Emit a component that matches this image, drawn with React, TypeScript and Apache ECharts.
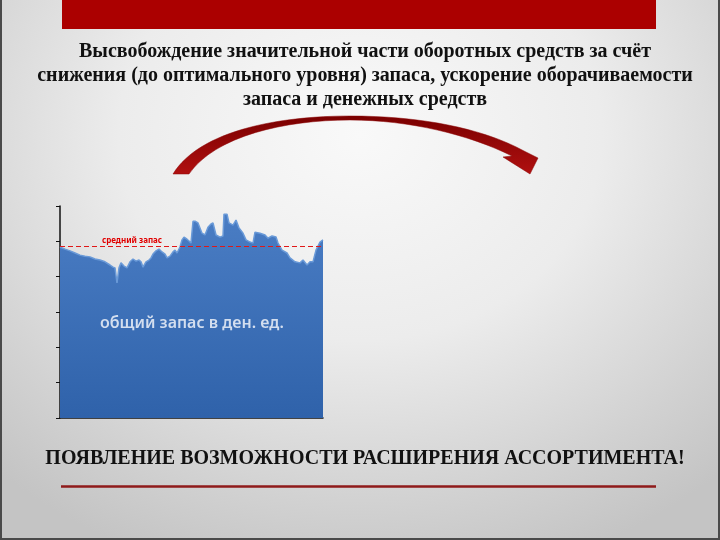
import React, { useEffect, useRef } from "react";
import * as echarts from "echarts";

// Days since start of observation (x), and total stock value in money units (y)
const days: number[] = [
  0, 5, 10, 15, 20, 25, 30, 35, 40, 45, 50, 53, 55, 57, 59, 61, 64, 67, 70, 73,
  76, 79, 81, 83, 86, 89, 91, 93, 96, 99, 102, 105, 107, 110, 113, 115, 117, 120, 122, 124,
  127, 129, 131, 133, 135, 138, 142, 145, 148, 151, 153, 156, 160, 163, 164, 167, 169, 173, 176, 179,
  183, 186, 190, 193, 195, 200, 205, 208, 212, 216, 218, 222, 227, 230, 235, 240, 243, 247, 250, 253,
  256, 260, 263,
];
const stock: number[] = [
  4.84, 4.78, 4.73, 4.67, 4.61, 4.58, 4.56, 4.5, 4.47, 4.42, 4.33, 4.27, 4.25, 3.82, 4.25, 4.39, 4.3, 4.25, 4.42, 4.5,
  4.44, 4.47, 4.42, 4.27, 4.42, 4.47, 4.53, 4.64, 4.73, 4.78, 4.7, 4.64, 4.53, 4.58, 4.7, 4.75, 4.67, 4.84, 5.04, 5.12,
  5.06, 5.01, 4.95, 5.57, 5.57, 5.52, 5.23, 5.18, 5.4, 5.49, 5.52, 5.18, 5.12, 5.15, 5.77, 5.77, 5.52, 5.46, 5.6, 5.38,
  5.23, 5.04, 4.98, 4.95, 5.26, 5.23, 5.18, 5.09, 5.15, 5.12, 4.95, 4.75, 4.67, 4.53, 4.42, 4.39, 4.47, 4.33, 4.42, 4.42,
  4.75, 4.98, 5.04,
];
const averageStock = 4.85;
const averageLabel = "средний запас";
const areaLabel = "общий запас в ден. ед.";
const titleLines: string[] = [
  "Высвобождение значительной части оборотных средств за счёт",
  "снижения (до оптимального уровня) запаса, ускорение оборачиваемости",
  "запаса и денежных средств",
];
const conclusion = "ПОЯВЛЕНИЕ ВОЗМОЖНОСТИ РАСШИРЕНИЯ АССОРТИМЕНТА!";

const ARROW_D =
  "M 173 174 C 200 130 280 116 350 116 C 420 116 482 128 524 151 L 538 158 L 530 174 L 503 157 L 512 156 C 470 135 410 120 350 120 C 285 120 215 136 189 174 Z";

let registered = false;

export default function App() {
  const ref = useRef<HTMLDivElement>(null);
  useEffect(() => {
    if (!ref.current) return;
    if (!registered) {
      echarts.graphic.registerShape("bigArrow", echarts.graphic.extendPath(ARROW_D, {}) as any);
      registered = true;
    }
    const chart = echarts.init(ref.current, undefined, { renderer: "svg" });
    const series = days.map((d, i) => [d, stock[i]]);
    const serif = "'Liberation Serif', 'Times New Roman', serif";
    chart.setOption({
      animation: false,
      backgroundColor: "transparent",
      grid: { left: 60, top: 206, right: 397, bottom: 122, containLabel: false },
      xAxis: {
        type: "value",
        min: 0,
        max: 263,
        axisLine: { show: true, lineStyle: { color: "#111", width: 1.5 } },
        axisTick: { show: false },
        axisLabel: { show: false },
        splitLine: { show: false },
      },
      yAxis: {
        type: "value",
        min: 0,
        max: 6,
        interval: 1,
        axisLine: { show: true, lineStyle: { color: "#111", width: 1.5 } },
        axisTick: { show: true, length: 4, lineStyle: { color: "#111" } },
        axisLabel: { show: false },
        splitLine: { show: false },
      },
      series: [
        {
          type: "line",
          data: series,
          showSymbol: false,
          symbol: "none",
          lineStyle: { color: "#6a9ad8", width: 1.5 },
          areaStyle: {
            opacity: 1,
            color: new echarts.graphic.LinearGradient(0, 0, 0, 1, [
              { offset: 0, color: "#4a7dc4" },
              { offset: 1, color: "#2f62aa" },
            ]),
          },
          markLine: {
            silent: true,
            symbol: "none",
            label: { show: false },
            lineStyle: { color: "#e01818", type: [5, 3], width: 1.2 },
            data: [{ yAxis: averageStock }],
          },
          markPoint: {
            silent: true,
            symbol: "circle",
            symbolSize: 0,
            label: {
              show: true,
              position: "top",
              distance: 3,
              formatter: averageLabel,
              color: "#e00000",
              fontSize: 8,
              fontWeight: "bold",
              fontFamily: "'Noto Sans', sans-serif",
            },
            data: [{ coord: [72, averageStock] }],
          },
        },
      ],
      graphic: [
        { type: "rect", shape: { x: 62, y: 0, width: 594, height: 29 }, style: { fill: "#ab0000" } },
        ...titleLines.map((t, i) => ({
          type: "text",
          x: 365,
          y: 50 + i * 24,
          style: {
            text: t,
            fill: "#111",
            font: `bold 20px ${serif}`,
            align: "center",
            verticalAlign: "middle",
          },
        })),
        {
          type: "bigArrow",
          x: 0,
          y: 0,
          style: {
            fill: new echarts.graphic.LinearGradient(0, 0, 0, 1, [
              { offset: 0, color: "#7a0000" },
              { offset: 1, color: "#b01010" },
            ]),
            stroke: "#8a0505",
            lineWidth: 0.5,
          },
        },
        {
          type: "text",
          x: 192,
          y: 322,
          z: 10,
          style: {
            text: areaLabel,
            fill: "#d3deef",
            font: "600 16px 'Noto Sans', sans-serif",
            align: "center",
            verticalAlign: "middle",
          },
        },
        {
          type: "text",
          x: 365,
          y: 457,
          style: {
            text: conclusion,
            fill: "#111",
            font: `bold 20px ${serif}`,
            align: "center",
            verticalAlign: "middle",
          },
        },
        {
          type: "line",
          shape: { x1: 61, y1: 486.5, x2: 656, y2: 486.5 },
          style: { stroke: "#8f1a1a", lineWidth: 2.5 },
        },
      ],
    });
    return () => chart.dispose();
  }, []);
  return (
    <div
      style={{
        position: "fixed",
        left: 0,
        top: 0,
        width: 720,
        height: 540,
        boxSizing: "border-box",
        borderLeft: "2px solid #4a4a4a",
        borderRight: "2px solid #4a4a4a",
        borderBottom: "2px solid #4a4a4a",
        background:
          "radial-gradient(ellipse 75% 85% at 50% 25%, #f9f9f9 0%, #ececec 45%, #d2d2d2 80%, #c4c4c4 100%)",
      }}
    >
      <div ref={ref} style={{ position: "absolute", left: -2, top: 0, width: 720, height: 540 }} />
    </div>
  );
}
